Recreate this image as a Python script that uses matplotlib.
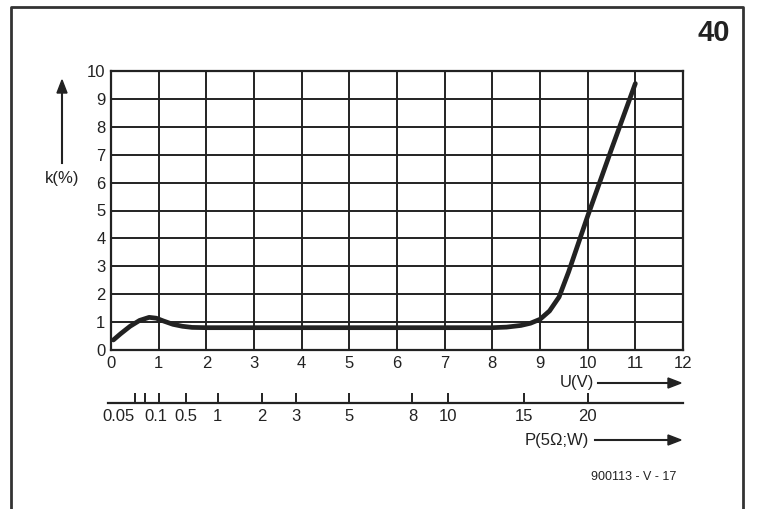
import matplotlib
matplotlib.use("Agg")
import matplotlib.pyplot as plt
from matplotlib.lines import Line2D
import numpy as np

plt.rcParams['font.family'] = ['Liberation Sans', 'DejaVu Sans']

# Data
u_vals = [0.05, 0.2, 0.4, 0.6, 0.8, 0.95, 1.1, 1.3, 1.5, 1.7, 2.0, 3.0, 4.0, 5.0, 6.0,
          7.0, 8.0, 8.3, 8.6, 8.8, 9.0, 9.2, 9.4, 9.6, 10.0, 10.5, 11.0]
k_vals = [0.36, 0.58, 0.85, 1.06, 1.17, 1.14, 1.04, 0.92, 0.85, 0.81, 0.8, 0.8, 0.8, 0.8, 0.8,
          0.8, 0.8, 0.82, 0.88, 0.96, 1.1, 1.4, 1.9, 2.8, 4.8, 7.2, 9.55]

x_ticks = list(range(0, 13))
y_ticks = list(range(0, 11))
p_ticks = [0.05, 0.1, 0.2, 0.5, 1, 2, 3, 5, 8, 10, 15, 20]
p_labels = ["0.05", "0.1", "", "0.5", "1", "2", "3", "5", "8", "10", "15", "20"]
load_ohm = 5.0

W, H = 773, 509
fig = plt.figure(figsize=(W / 100, H / 100), dpi=100)
fig.patch.set_facecolor('white')

def fx(px):
    return px / W

def fy(py):
    return 1 - py / H

FS = 12
txtc = '#222222'

ax = fig.add_axes([fx(111), fy(350), (683 - 111) / W, (350 - 71) / H])
ax.set_xlim(0, 12)
ax.set_ylim(0, 10)
ax.set_xticks(x_ticks)
ax.set_yticks(y_ticks)
ax.grid(True, color=txtc, linewidth=1.4)
ax.set_axisbelow(True)
for s in ax.spines.values():
    s.set_color(txtc)
    s.set_linewidth(1.6)
ax.tick_params(length=0, labelsize=FS, colors=txtc, pad=4)
ax.set_xticklabels([str(t) for t in x_ticks])
ax.set_yticklabels([str(t) for t in y_ticks])
ax.plot(u_vals, k_vals, color=txtc, linewidth=3.4, solid_capstyle='round',
        solid_joinstyle='round', zorder=5)

# Secondary P axis
pax = fig.add_axes([fx(111), fy(403), (683 - 111) / W, 0.001])
pax.set_xlim(0, 12)
pax.set_ylim(0, 1)
for k in ['left', 'right', 'top']:
    pax.spines[k].set_visible(False)
pax.spines['bottom'].set_color(txtc)
pax.spines['bottom'].set_linewidth(1.6)
pax.spines['bottom'].set_bounds(-0.06, 12)
pax.set_yticks([])
pax.set_xticks([np.sqrt(p * load_ohm) for p in p_ticks])
pax.set_xticklabels(p_labels)
pax.tick_params(axis='x', direction='in', length=7, width=1.4, colors=txtc,
                labelsize=FS, pad=4)
pax.patch.set_alpha(0)
tl = pax.get_xticklabels()
tl[0].set_horizontalalignment('right')
tl[1].set_horizontalalignment('left')

# y-axis arrow and label
fig.add_artist(Line2D([fx(62), fx(62)], [fy(163), fy(92)], color=txtc, lw=1.5))
fig.patches.append(plt.Polygon([[fx(57), fy(93)], [fx(67), fy(93)], [fx(62), fy(80)]],
                               closed=True, color=txtc, transform=fig.transFigure))
fig.text(fx(62), fy(178), "k(%)", ha='center', va='center', fontsize=FS, color=txtc)

# U(V) label and arrow
fig.text(fx(577), fy(383), "U(V)", ha='center', va='center', fontsize=FS, color=txtc)
fig.add_artist(Line2D([fx(598), fx(670)], [fy(383), fy(383)], color=txtc, lw=1.5))
fig.patches.append(plt.Polygon([[fx(668), fy(378)], [fx(668), fy(388)], [fx(681), fy(383)]],
                               closed=True, color=txtc, transform=fig.transFigure))

# P label and arrow
fig.text(fx(557), fy(440), "P(5Ω;W)", ha='center', va='center', fontsize=FS, color=txtc)
fig.add_artist(Line2D([fx(595), fx(670)], [fy(440), fy(440)], color=txtc, lw=1.5))
fig.patches.append(plt.Polygon([[fx(668), fy(435)], [fx(668), fy(445)], [fx(681), fy(440)]],
                               closed=True, color=txtc, transform=fig.transFigure))

fig.text(fx(634), fy(477), "900113 - V - 17", ha='center', va='center', fontsize=9,
         color=txtc)
fig.text(fx(714), fy(33), "40", ha='center', va='center', fontsize=21, fontweight='bold',
         color=txtc)

# frame
fig.add_artist(Line2D([fx(11), fx(11), fx(743), fx(743)], [0, fy(7), fy(7), 0],
                      color='#333333', lw=2))

fig.savefig("out.png", dpi=100, facecolor='white')
